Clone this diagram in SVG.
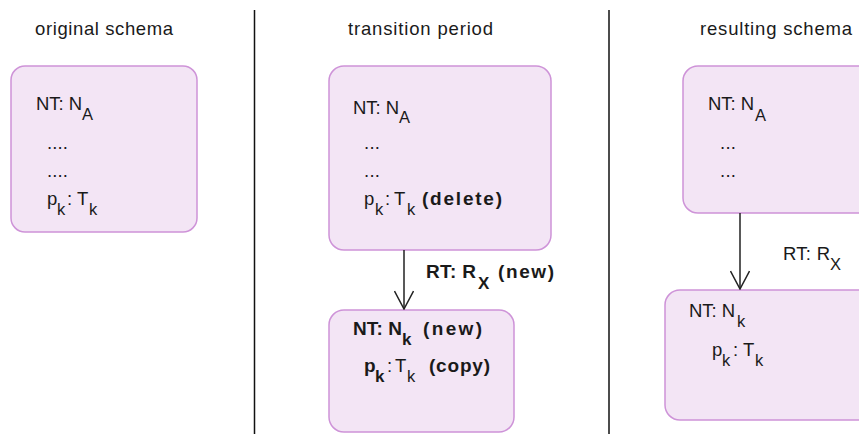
<svg xmlns="http://www.w3.org/2000/svg" width="859" height="434" viewBox="0 0 859 434">
  <style>
    text { font-family: "Liberation Sans", Arial, sans-serif; font-size: 18.5px; fill: #1a1a1a; }
    .sub { font-size: 16.5px; }
    .b { font-weight: bold; font-size: 19px; }
    .sub.b { font-size: 17px; }
    .box { fill: #f3e5f5; stroke: #ce93d8; stroke-width: 1.5; }
    .sep { stroke: #111; stroke-width: 1.5; }
    .edge { stroke: #222; stroke-width: 1.5; fill: none; }
  </style>
  <defs>
    <marker id="open" viewBox="0 0 20 20" refX="19" refY="10" markerWidth="20" markerHeight="20" markerUnits="userSpaceOnUse" orient="auto">
      <path d="M1,0.5 L19,10 L1,19.5" fill="none" stroke="#222" stroke-width="1.5"/>
    </marker>
  </defs>

  <rect width="859" height="434" fill="#fff"/>

  <!-- column headers -->
  <g id="headers">
    <text x="35" y="35" textLength="138" lengthAdjust="spacing">original schema</text>
    <text x="348" y="35" textLength="145" lengthAdjust="spacing">transition period</text>
    <text x="700" y="35" textLength="152" lengthAdjust="spacing">resulting schema</text>
  </g>

  <!-- column separators -->
  <g id="separators">
    <line class="sep" x1="254.5" y1="10" x2="254.5" y2="434"/>
    <line class="sep" x1="609" y1="10" x2="609" y2="434"/>
  </g>

  <!-- original schema: node type A -->
  <g id="orig-na">
    <rect class="box" x="11" y="66" width="186" height="166" rx="14"/>
    <text x="36" y="110" textLength="46" lengthAdjust="spacing">NT: N</text>
    <text class="sub" x="82" y="120">A</text>
    <text x="47" y="149" textLength="21" lengthAdjust="spacing">....</text>
    <text x="47" y="177" textLength="21" lengthAdjust="spacing">....</text>
    <text x="47" y="205">p</text>
    <text class="sub" x="57" y="215">k</text>
    <text x="67" y="205">:</text>
    <text x="77" y="205">T</text>
    <text class="sub" x="89" y="215">k</text>
  </g>

  <!-- transition period: node type A -->
  <g id="trans-na">
    <rect class="box" x="329" y="66" width="222" height="184" rx="15"/>
    <text x="353" y="114" textLength="46" lengthAdjust="spacing">NT: N</text>
    <text class="sub" x="399" y="123">A</text>
    <text x="364" y="149" textLength="16" lengthAdjust="spacing">...</text>
    <text x="364" y="177" textLength="16" lengthAdjust="spacing">...</text>
    <text x="364" y="205">p</text>
    <text class="sub" x="375" y="215">k</text>
    <text x="385" y="205">:</text>
    <text x="394" y="205">T</text>
    <text class="sub" x="407" y="215">k</text>
    <text class="b" x="422" y="205" textLength="80" lengthAdjust="spacing">(delete)</text>
  </g>

  <!-- transition period: new node type k -->
  <g id="trans-nk">
    <rect class="box" x="329" y="310" width="185" height="122" rx="15"/>
    <text class="b" x="353" y="335" textLength="49" lengthAdjust="spacing">NT: N</text>
    <text class="sub b" x="402" y="345">k</text>
    <text class="b" x="423" y="335" textLength="59" lengthAdjust="spacing">(new)</text>
    <text class="b" x="364" y="372">p</text>
    <text class="sub b" x="375" y="382">k</text>
    <text x="387" y="372">:</text>
    <text x="395" y="372">T</text>
    <text class="sub" x="407" y="382">k</text>
    <text class="b" x="429" y="372" textLength="61" lengthAdjust="spacing">(copy)</text>
  </g>

  <!-- resulting schema: node type A -->
  <g id="res-na">
    <rect class="box" x="683" y="66" width="190" height="147" rx="15"/>
    <text x="708" y="110" textLength="46" lengthAdjust="spacing">NT: N</text>
    <text class="sub" x="755" y="121">A</text>
    <text x="720" y="149" textLength="16" lengthAdjust="spacing">...</text>
    <text x="720" y="177" textLength="16" lengthAdjust="spacing">...</text>
  </g>

  <!-- resulting schema: node type k -->
  <g id="res-nk">
    <rect class="box" x="665" y="290" width="210" height="130" rx="15"/>
    <text x="689" y="317" textLength="46" lengthAdjust="spacing">NT: N</text>
    <text class="sub" x="737" y="327">k</text>
    <text x="712" y="356">p</text>
    <text class="sub" x="722" y="366">k</text>
    <text x="733" y="356">:</text>
    <text x="743" y="356">T</text>
    <text class="sub" x="755" y="366">k</text>
  </g>

  <!-- relationships -->
  <g id="connectors">
    <line class="edge" x1="404" y1="250" x2="404" y2="309" marker-end="url(#open)"/>
    <text class="b" x="426" y="278" textLength="50" lengthAdjust="spacing">RT: R</text>
    <text class="sub b" x="478" y="289">X</text>
    <text class="b" x="498" y="278" textLength="56" lengthAdjust="spacing">(new)</text>

    <line class="edge" x1="740" y1="213" x2="740" y2="289" marker-end="url(#open)"/>
    <text x="783" y="260" textLength="47" lengthAdjust="spacing">RT: R</text>
    <text class="sub" x="830" y="270">X</text>
  </g>
</svg>
